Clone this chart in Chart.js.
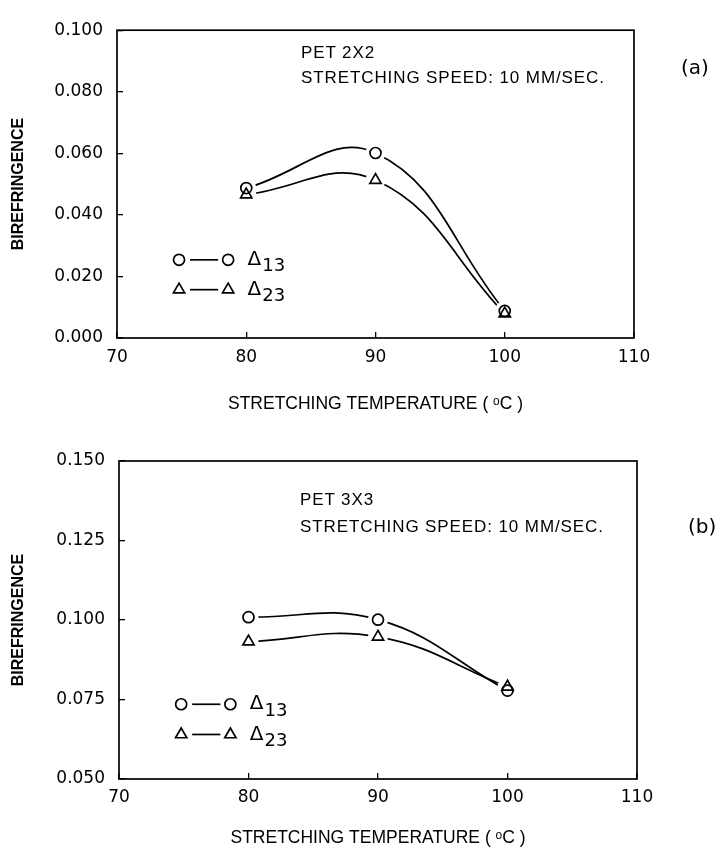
<!DOCTYPE html>
<html>
<head>
<meta charset="utf-8">
<script src="https://cdn.jsdelivr.net/npm/chart.js@4.4.1/dist/chart.umd.min.js"></script>
<style>
  body { margin: 0; background: #fff; }
  #page { position: relative; width: 721px; height: 850px; }
  canvas { position: absolute; left: 0; }
  #chartA { top: 0; }
  #chartB { top: 425px; }
  .note { position: absolute; font-family: 'Liberation Sans', sans-serif; font-size: 17px; letter-spacing: 0.9px; color: #000; white-space: nowrap; line-height: 20px; }
  .panel { position: absolute; font-family: 'DejaVu Sans', sans-serif; font-size: 20px; color: #000; line-height: 24px; }
</style>
</head>
<body>
<div id="page">
  <canvas id="chartA" width="721" height="425"></canvas>
  <canvas id="chartB" width="721" height="425"></canvas>
  <div class="note" style="left:301px; top:43px">PET 2X2</div>
  <div class="note" style="left:301px; top:68px">STRETCHING SPEED: 10 MM/SEC.</div>
  <div class="panel" style="left:681px; top:55px">(a)</div>
  <div class="note" style="left:300px; top:490px">PET 3X3</div>
  <div class="note" style="left:300px; top:517px">STRETCHING SPEED: 10 MM/SEC.</div>
  <div class="panel" style="left:688px; top:514px">(b)</div>
</div>
<script>
const temps = [80, 90, 100];

// PET 2x2
const delta13A = [0.0487, 0.0601, 0.0088];
const delta23A = [0.0466, 0.0513, 0.0079];

// PET 3x3
const delta13B = [0.1009, 0.1001, 0.0778];
const delta23B = [0.0932, 0.0947, 0.0790];

const xTicks = [70, 80, 90, 100, 110];
const yTicksA = [0, 0.02, 0.04, 0.06, 0.08, 0.1];
const yTicksB = [0.05, 0.075, 0.1, 0.125, 0.15];

const ink = '#000';
const tickFont = { family: 'DejaVu Sans', size: 17 };

// box around the plot area
const framePlugin = {
  id: 'frame',
  afterDraw(chart) {
    const { ctx, chartArea: a } = chart;
    ctx.save();
    ctx.strokeStyle = ink;
    ctx.lineWidth = 1.7;
    ctx.strokeRect(a.left, a.top, a.right - a.left, a.bottom - a.top);
    ctx.restore();
  }
};

// symbol key drawn inside the plot
const keyPlugin = {
  id: 'key',
  afterDatasetsDraw(chart, args, opts) {
    const { ctx, scales: { x, y } } = chart;
    const xa = x.getPixelForValue(opts.xs[0]);
    const xb = x.getPixelForValue(opts.xs[1]);
    const tx = x.getPixelForValue(opts.xs[2]);
    ctx.save();
    ctx.strokeStyle = ink;
    ctx.lineWidth = 1.7;
    opts.rows.forEach(row => {
      const py = y.getPixelForValue(row.y);
      const sym = { pointStyle: row.style, radius: row.style === 'circle' ? 5.5 : 6.5, borderWidth: 1.7, rotation: 0 };
      ctx.fillStyle = 'rgba(0,0,0,0)';
      Chart.helpers.drawPoint(ctx, sym, xa, py);
      Chart.helpers.drawPoint(ctx, sym, xb, py);
      ctx.beginPath();
      ctx.moveTo(xa + 11, py);
      ctx.lineTo(xb - 10, py);
      ctx.stroke();
      ctx.fillStyle = ink;
      ctx.textBaseline = 'middle';
      ctx.textAlign = 'left';
      ctx.font = '20px "DejaVu Sans"';
      ctx.fillText('Δ', tx, py);
      const w = ctx.measureText('Δ').width;
      ctx.font = '18px "DejaVu Sans"';
      ctx.fillText(row.sub, tx + w + 1, py + 7);
    });
    ctx.restore();
  }
};

function makeChart(id, d13, d23, yTicks, box, keyRows) {
  const pts = ys => temps.map((t, i) => ({ x: t, y: ys[i] }));
  const curve = ys => ({
    data: pts(ys), borderColor: ink, borderWidth: 1.7, pointRadius: 0,
    tension: 0.42, fill: false, order: 3
  });
  const halo = ys => ({
    data: pts(ys), showLine: false, pointRadius: 10, pointBorderWidth: 0,
    pointBackgroundColor: '#fff', pointBorderColor: '#fff', order: 2
  });
  const marker = (ys, style, r) => ({
    data: pts(ys), showLine: false, pointStyle: style, pointRadius: r,
    pointBorderColor: ink, pointBorderWidth: 1.7,
    pointBackgroundColor: 'rgba(0,0,0,0)', order: 1
  });

  return new Chart(document.getElementById(id), {
    type: 'line',
    data: {
      datasets: [
        curve(d13), curve(d23),
        halo(d13), halo(d23),
        marker(d13, 'circle', 5.5), marker(d23, 'triangle', 6.5)
      ]
    },
    options: {
      responsive: false,
      animation: false,
      events: [],
      layout: { padding: { top: box.top, right: 721 - box.right, left: 0, bottom: 0 } },
      plugins: {
        legend: { display: false },
        tooltip: { enabled: false },
        key: { xs: [74.8, 78.6, 80.1], rows: keyRows }
      },
      scales: {
        x: {
          type: 'linear',
          min: 70,
          max: 110,
          afterBuildTicks: s => { s.ticks = xTicks.map(v => ({ value: v })); },
          afterFit: s => { s.height = 425 - box.bottom; },
          ticks: { font: tickFont, color: ink, padding: box.xPad, maxRotation: 0, autoSkip: false },
          grid: { drawOnChartArea: false, drawTicks: true, tickLength: -6, color: ink, lineWidth: 1.3 },
          border: { display: false },
          title: {
            display: true,
            text: 'STRETCHING TEMPERATURE ( ᵒC )',
            font: { family: 'Liberation Sans', size: 17.5 },
            color: ink,
            padding: { top: 0, bottom: box.titlePad }
          }
        },
        y: {
          min: yTicks[0],
          max: yTicks[yTicks.length - 1],
          afterBuildTicks: s => { s.ticks = yTicks.map(v => ({ value: v })); },
          afterFit: s => { s.width = box.left; },
          ticks: { font: tickFont, color: ink, padding: 20, callback: v => v.toFixed(3) },
          grid: { drawOnChartArea: false, drawTicks: true, tickLength: -6, color: ink, lineWidth: 1.3 },
          border: { display: false },
          title: {
            display: true,
            text: 'BIREFRINGENCE',
            font: { family: 'Liberation Sans', size: 16, weight: 'bold' },
            color: ink,
            padding: { top: 9, bottom: 0 }
          }
        }
      }
    },
    plugins: [framePlugin, keyPlugin]
  });
}

makeChart('chartA', delta13A, delta23A, yTicksA,
  { left: 117, top: 19, right: 634, bottom: 338, xPad: 15.5, titlePad: 10.5 },
  [{ style: 'circle', y: 0.0254, sub: '13' }, { style: 'triangle', y: 0.0157, sub: '23' }]);

makeChart('chartB', delta13B, delta23B, yTicksB,
  { left: 119, top: 36, right: 637, bottom: 354, xPad: 14.5, titlePad: 1.5 },
  [{ style: 'circle', y: 0.0735, sub: '13' }, { style: 'triangle', y: 0.0640, sub: '23' }]);
</script>
</body>
</html>
